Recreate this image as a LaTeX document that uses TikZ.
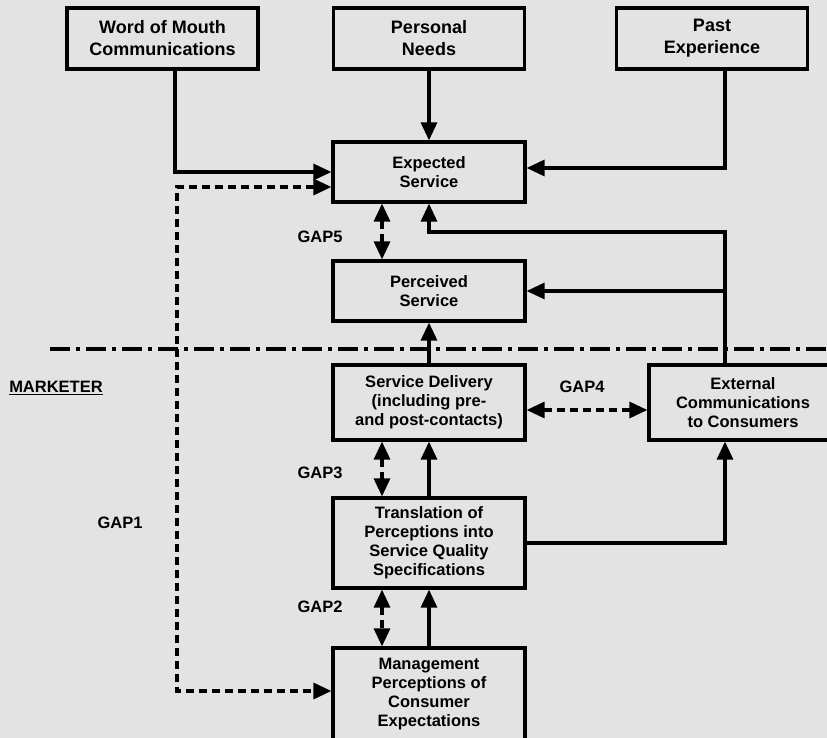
\documentclass[tikz,border=0pt]{standalone}
\usepackage{fontspec}
\setmainfont{Liberation Sans}
\usetikzlibrary{arrows.meta}
\definecolor{paper}{RGB}{227,227,227}
\begin{document}
\begin{tikzpicture}[x=1pt,y=-1pt,
  box/.style={draw, line width=3.2pt, fill=paper, align=center, inner sep=0pt,
    font=\bfseries\fontsize{16.5}{19}\selectfont},
  topbox/.style={box, minimum width=191pt, minimum height=61pt,
    font=\bfseries\fontsize{18}{22}\selectfont},
  inbox/.style={box, minimum width=192pt},
  flow/.style={line width=3.2pt, -{Triangle[length=18pt,width=16pt]}},
  gapline/.style={line width=3.2pt, dash pattern=on 8pt off 5pt,
    {Triangle[length=18pt,width=16pt]}-{Triangle[length=18pt,width=16pt]}},
  lbl/.style={font=\bfseries\fontsize{16.5}{19}\selectfont, inner sep=0pt}
]
\clip (0,0) rectangle (827,738);
\fill[paper] (0,0) rectangle (827,738);

% boundary between consumer and marketer
\draw[line width=3.2pt, dash pattern=on 20pt off 6pt on 4pt off 6pt] (50,349) -- (827,349);

% consumer side
\node[topbox] (wom) at (162.5,38.5) {Word of Mouth\\Communications};
\node[topbox] (pn) at (429,38.5) {Personal\\Needs};
\node[topbox] (pe) at (712,38.5) {Past\\Experience};
\node[inbox, minimum height=60pt] (es) at (429,172) {Expected\\Service};
\node[inbox, minimum height=60pt] (ps) at (429,291) {Perceived\\Service};

% marketer side
\node[inbox, minimum height=75pt] (sd) at (429,402.5) {Service Delivery\\(including pre-\\and post-contacts)};
\node[box, minimum width=188pt, minimum height=75pt] (ec) at (743,402.5) {External\\Communications\\to Consumers};
\node[inbox, minimum height=90pt] (tr) at (429,543) {Translation of\\Perceptions into\\Service Quality\\Specifications};
\node[inbox, minimum height=92pt] (mg) at (429,694) {Management\\Perceptions of\\Consumer\\Expectations};

% labels
\node[lbl] (mk) at (56,388) {\underline{MARKETER}};
\node[lbl] (g1) at (120,523) {GAP1};
\node[lbl] (g2) at (320,607) {GAP2};
\node[lbl] (g3) at (320,473) {GAP3};
\node[lbl] (g4) at (582,387) {GAP4};
\node[lbl] (g5) at (320,237) {GAP5};

% helper coordinates for bends
\coordinate (gapone) at (177,0);
\coordinate (fb) at (725,232);

% expectation inputs
\draw[flow] ([xshift=12.5pt]wom.south) |- (es.west);
\draw[flow] (pn.south) -- (es.north);
\draw[flow] ([xshift=13pt]pe.south) |- ([yshift=4pt]es.east);

% external communications feedback
\draw[flow] ([xshift=-18pt]ec.north) -- (fb) -| (es.south);
\draw[flow] (fb |- ps.east) -- (ps.east);

% internal flow
\draw[flow] (sd.north) -- (ps.south);
\draw[flow] (tr.north) -- (sd.south);
\draw[flow] (mg.north) -- (tr.south);
\draw[flow] (tr.east) -| ([xshift=-18pt]ec.south);

% gaps
\draw[gapline] ([yshift=-15pt]es.west) -| (gapone |- 0,691) -- (mg.west |- 0,691);
\draw[gapline] ([xshift=-47pt]es.south) -- ([xshift=-47pt]ps.north);
\draw[gapline] ([yshift=-7.5pt]sd.east) -- ([yshift=-7.5pt]ec.west);
\draw[gapline] ([xshift=-47pt]sd.south) -- ([xshift=-47pt]tr.north);
\draw[gapline] ([xshift=-47pt]tr.south) -- ([xshift=-47pt]mg.north);
\end{tikzpicture}
\end{document}
